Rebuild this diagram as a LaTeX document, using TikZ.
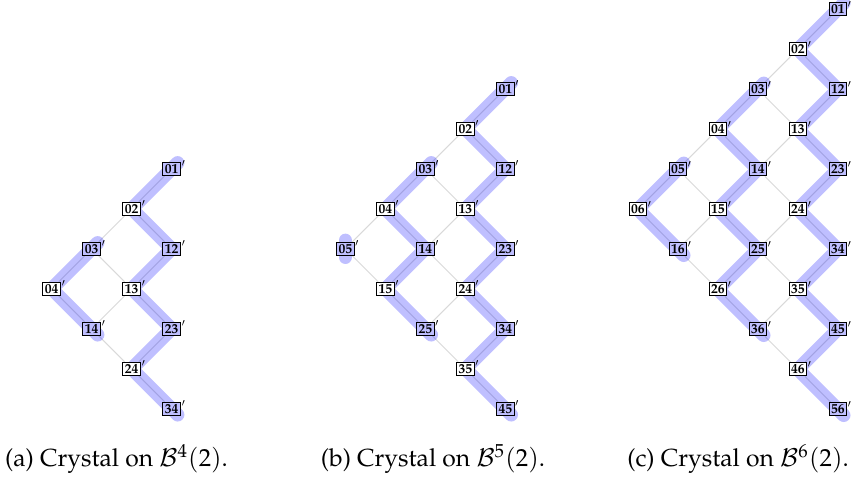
\documentclass[tikz,border=0pt]{standalone}
\usepackage[T1]{fontenc}
\usepackage{mathpazo}
\usepackage{amsmath}
\usetikzlibrary{positioning}
\pgfdeclarelayer{back}
\pgfsetlayers{back,main}
\tikzset{
	node distance=16.2pt and 16.2pt, % one step of the crystal, row and column
	on grid, % distances are measured between centres
	elt/.style={draw, line width=0.4pt, fill=white, inner sep=0.8pt,
		font=\fontsize{5.5}{6}\selectfont\bfseries,
		label={[inner sep=0pt, anchor=north west, xshift=0.1pt, yshift=0.6pt, font=\fontsize{5.5}{6}\selectfont]north east:$'$}}, % a boxed pair with its prime
	hi/.style={elt, fill=blue!25}, % pair that sits on a string
	crys/.style={draw=black!15, line width=0.4pt}, % the thin grey edges
	hl/.style={draw=blue, draw opacity=0.25, line width=5.5pt, line cap=round, line join=round,
		shorten <=-3.4pt, shorten >=-3.4pt}, % the strings
	subcap/.style={anchor=base, font=\normalsize},
}

\begin{document}
\begin{tikzpicture}[x=0.405pt, y=-0.405pt]
	\useasboundingbox (0,0) rectangle (852,481);

	% (a) n = 4
	\node[hi] (a01) at (171.7,168.8) {01};
	\node[elt, below left=of a01] (a02) {02};
	\node[hi, below left=of a02] (a03) {03};
	\node[elt, below left=of a03] (a04) {04};
	\node[hi, below right=of a02] (a12) {12};
	\node[elt, below right=of a03] (a13) {13};
	\node[hi, below right=of a04] (a14) {14};
	\node[hi, below right=of a13] (a23) {23};
	\node[elt, below right=of a14] (a24) {24};
	\node[hi, below right=of a24] (a34) {34};

	% (b) n = 5
	\node[hi] (b01) at (505.3,88.8) {01};
	\node[elt, below left=of b01] (b02) {02};
	\node[hi, below left=of b02] (b03) {03};
	\node[elt, below left=of b03] (b04) {04};
	\node[hi, below left=of b04] (b05) {05};
	\node[hi, below right=of b02] (b12) {12};
	\node[elt, below right=of b03] (b13) {13};
	\node[hi, below right=of b04] (b14) {14};
	\node[elt, below right=of b05] (b15) {15};
	\node[hi, below right=of b13] (b23) {23};
	\node[elt, below right=of b14] (b24) {24};
	\node[hi, below right=of b15] (b25) {25};
	\node[hi, below right=of b24] (b34) {34};
	\node[elt, below right=of b25] (b35) {35};
	\node[hi, below right=of b35] (b45) {45};

	% (c) n = 6
	\node[hi] (c01) at (837.8,9.3) {01};
	\node[elt, below left=of c01] (c02) {02};
	\node[hi, below left=of c02] (c03) {03};
	\node[elt, below left=of c03] (c04) {04};
	\node[hi, below left=of c04] (c05) {05};
	\node[elt, below left=of c05] (c06) {06};
	\node[hi, below right=of c02] (c12) {12};
	\node[elt, below right=of c03] (c13) {13};
	\node[hi, below right=of c04] (c14) {14};
	\node[elt, below right=of c05] (c15) {15};
	\node[hi, below right=of c06] (c16) {16};
	\node[hi, below right=of c13] (c23) {23};
	\node[elt, below right=of c14] (c24) {24};
	\node[hi, below right=of c15] (c25) {25};
	\node[elt, below right=of c16] (c26) {26};
	\node[hi, below right=of c24] (c34) {34};
	\node[elt, below right=of c25] (c35) {35};
	\node[hi, below right=of c26] (c36) {36};
	\node[hi, below right=of c35] (c45) {45};
	\node[elt, below right=of c36] (c46) {46};
	\node[hi, below right=of c46] (c56) {56};

	\begin{pgfonlayer}{back}
		\draw[crys] (a01) -- (a02) -- (a03) -- (a04) -- (a14) -- (a24) -- (a34)
			(a02) -- (a12) -- (a13) -- (a14)
			(a03) -- (a13) -- (a23) -- (a24);
		\draw[crys] (b01) -- (b02) -- (b03) -- (b04) -- (b05) -- (b15) -- (b25) -- (b35) -- (b45)
			(b02) -- (b12) -- (b13) -- (b14) -- (b15)
			(b03) -- (b13) -- (b23) -- (b24) -- (b25)
			(b04) -- (b14) -- (b24) -- (b34) -- (b35);
		\draw[crys] (c01) -- (c02) -- (c03) -- (c04) -- (c05) -- (c06) -- (c16) -- (c26) -- (c36) -- (c46) -- (c56)
			(c02) -- (c12) -- (c13) -- (c14) -- (c15) -- (c16)
			(c03) -- (c13) -- (c23) -- (c24) -- (c25) -- (c26)
			(c04) -- (c14) -- (c24) -- (c34) -- (c35) -- (c36)
			(c05) -- (c15) -- (c25) -- (c35) -- (c45) -- (c46);

		\draw[hl] (a01.center) -- (a02.center) -- (a12.center) -- (a13.center) -- (a23.center) -- (a24.center) -- (a34.center);
		\draw[hl] (a03.center) -- (a04.center) -- (a14.center);
		\draw[hl] (b01.center) -- (b02.center) -- (b12.center) -- (b13.center) -- (b23.center) -- (b24.center) -- (b34.center) -- (b35.center) -- (b45.center);
		\draw[hl] (b03.center) -- (b04.center) -- (b14.center) -- (b15.center) -- (b25.center);
		\draw[hl, shorten <=0pt, shorten >=0pt] ([yshift=3.4pt]b05.center) -- ([yshift=-3.4pt]b05.center);
		\draw[hl] (c01.center) -- (c02.center) -- (c12.center) -- (c13.center) -- (c23.center) -- (c24.center) -- (c34.center) -- (c35.center) -- (c45.center) -- (c46.center) -- (c56.center);
		\draw[hl] (c03.center) -- (c04.center) -- (c14.center) -- (c15.center) -- (c25.center) -- (c26.center) -- (c36.center);
		\draw[hl] (c05.center) -- (c06.center) -- (c16.center);
	\end{pgfonlayer}

	\node[subcap] (capa) at (116.5,466.7) {(a) Crystal on $\mathcal{B}^4(2)$.};
	\node[subcap] (capb) at (433,466.7) {(b) Crystal on $\mathcal{B}^5(2)$.};
	\node[subcap] (capc) at (738,466.7) {(c) Crystal on $\mathcal{B}^6(2)$.};
\end{tikzpicture}
\end{document}
